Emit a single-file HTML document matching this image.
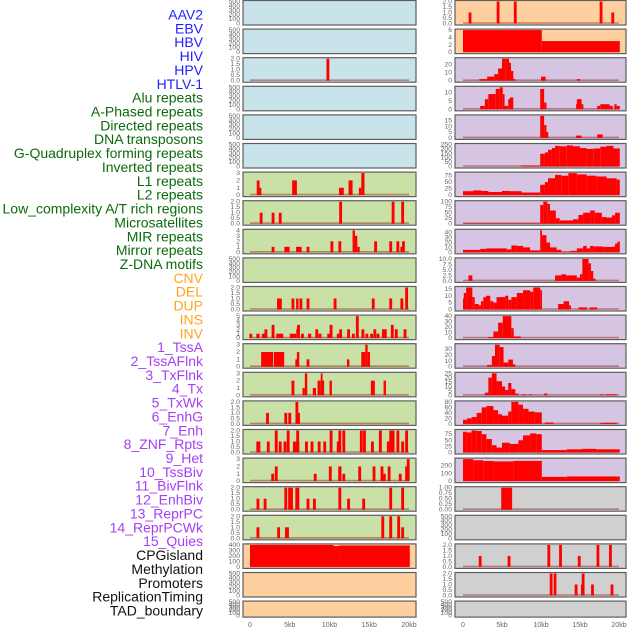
<!DOCTYPE html>
<html><head><meta charset="utf-8">
<style>
html,body{margin:0;padding:0;background:#fff;}
svg{display:block;font-family:"Liberation Sans",sans-serif;}
</style></head>
<body>
<svg id="chart" width="630" height="630" viewBox="0 0 630 630" xmlns="http://www.w3.org/2000/svg"></svg>
<script>
// ---- labels ----
const labelNames = ["AAV2","EBV","HBV","HIV","HPV","HTLV-1","Alu repeats","A-Phased repeats","Directed repeats","DNA transposons","G-Quadruplex forming repeats","Inverted repeats","L1 repeats","L2 repeats","Low_complexity A/T rich regions","Microsatellites","MIR repeats","Mirror repeats","Z-DNA motifs","CNV","DEL","DUP","INS","INV","1_TssA","2_TssAFlnk","3_TxFlnk","4_Tx","5_TxWk","6_EnhG","7_Enh","8_ZNF_Rpts","9_Het","10_TssBiv","11_BivFlnk","12_EnhBiv","13_ReprPC","14_ReprPCWk","15_Quies","CPGisland","Methylation","Promoters","ReplicationTiming","TAD_boundary"];
const labelGroups = [6,13,5,15,5];
const groupColors = ["#1f1fff","#0b6b0b","#ffa41c","#a53ef5","#111111"];

// ---- x axis ----
const xTicks = [0,5,10,15,20];
const xTickLabels = ["0","5kb","10kb","15kb","20kb"];

// ---- tick sets ----
const tEmpty = [0,100,200,300,400,500];
const tHalf = [0,0.5,1,1.5,2];
const t3 = [0,1,2,3];
const t4 = [0,1,2,3,4];
const t5 = [0,1,2,3,4,5];

// ---- middle column data: [start,end,value] or [pos,value] ----
const midHBV = [[9.8,2]];
const midAlu = [[0.85,1.2,2],[1.2,1.4,1],[5.3,5.9,2],[11.2,11.8,1],[12.4,12.9,2],[13.7,14.0,1],[14.0,14.4,3]];
const midAPh = [[1.4,1],[2.9,1],[3.8,1],[11.4,2],[18.0,2],[19.2,2]];
const midDir = [[2.9,1],[4.5,1],[4.8,1],[5.8,6.5,1],[7.3,1],[10.3,2],[11.3,2],[12.9,13.2,4],[13.2,13.5,3],[13.5,13.8,1],[15.8,2],[17.7,2],[18.6,2],[19.1,1],[19.3,2]];
const midP10 = [[3.4,4.0,1],[5.4,1],[5.8,6.1,1],[6.4,1],[7.3,1],[10.7,1],[15.5,1],[17.7,1],[19.1,1],[19.7,2]];
const midP11 = [[0.1,1],[0.8,1.2,1],[1.5,1.9,1],[2.0,2],[2.9,3],[3.3,3.9,1],[4.0,1],[5.0,5.8,1],[6.0,2],[6.1,3],[6.6,1],[7.3,7.7,1],[8.4,2],[8.8,1],[9.9,1],[10.2,3],[11.1,1],[11.4,2],[12.4,2],[13.0,1],[13.5,5],[14.2,2],[14.7,1],[15.3,1],[15.7,2],[16.1,1],[16.6,17.2,2],[17.9,3],[18.4,2],[19.5,2]];
const midP12 = [[1.4,2.9,2],[3.0,4.3,2],[5.7,5.9,1],[5.9,6.2,2],[7.3,1],[12.2,12.5,1],[14.0,14.5,2],[14.5,14.8,3],[14.8,15.1,2]];
const midP13 = [[5.4,2],[6.6,6.9,1],[6.9,7.2,3],[7.9,8.3,1],[8.5,8.9,2],[8.9,9.1,3],[9.1,9.3,2],[10.0,10.3,2],[15.2,15.7,2],[16.8,17.1,2]];
const midP14 = [[2.2,1],[4.5,1],[5.0,1],[5.9,2],[6.1,1]];
const midP15 = [[0.8,1.3,1],[2.3,1],[3.3,2],[3.8,1],[4.4,1],[4.8,2],[5.4,6.2,1],[6.0,2],[7.1,1],[7.8,1],[8.7,1],[9.4,1],[10.2,2],[11.1,1],[11.3,2],[11.8,2],[14.0,2],[14.4,2],[15.4,1],[16.4,2],[17.4,1],[17.7,2],[18.0,2],[18.6,2],[19.2,1],[19.7,2]];
const midP16 = [[2.85,1],[3.3,2],[8.2,1],[10.1,2],[11.1,11.5,2],[11.8,1],[13.8,2],[15.6,2],[16.6,2],[16.9,1],[17.5,2],[18.9,1],[19.7,2],[19.9,3]];
const midP17 = [[1.0,1],[1.9,1],[4.5,2],[4.8,5.4,2],[5.7,6.2,2],[7.3,1],[8.1,1],[11.3,2],[12.4,1],[14.3,1],[17.7,2],[19.2,2]];
const midP18 = [[1.0,1],[3.6,1],[4.4,4.9,1],[16.7,2],[17.7,2],[18.7,2],[19.2,1]];
const midCPG = [[0,10.5,400],[10.5,11.2,380],[11.2,20.1,390]];

// ---- right column data ----
const r0 = [[0.9,1],[4.5,2],[6.7,2],[17.7,2],[19.2,1]];
const r1 = [[0,10.1,6],[10.1,20.1,3]];
const r2 = [[2.1,3.1,2],[3.1,4.0,5],[4.0,4.5,8],[4.5,5.0,15],[5.0,5.4,27],[5.4,5.9,27],[5.9,6.15,22],[6.15,6.45,12],[6.45,6.7,2],[10.0,10.6,5],[14.6,15.0,2]];
const r3 = [[2.2,2.8,2],[2.8,3.25,6],[3.25,4.2,9],[4.2,4.7,12],[4.7,5.1,13],[5.1,5.3,9],[5.3,5.8,2],[5.8,6.0,6],[6.0,6.45,7],[9.9,10.4,12],[10.4,10.7,4],[14.5,14.8,3],[14.6,15.2,6],[15.2,15.3,3],[17.2,17.6,2],[17.6,18.8,3],[18.8,19.2,2],[19.4,19.7,3],[19.7,20.1,2]];
const r4 = [[9.9,10.4,19],[10.4,10.7,11],[10.7,10.85,5],[14.5,15.2,2],[17.2,17.9,3]];
const r5 = [[7.4,9.9,10],[9.9,10.5,145],[10.5,10.9,160],[10.9,11.4,190],[11.4,11.8,210],[11.8,12.4,235],[12.4,13.3,230],[13.3,14.1,240],[14.1,15.0,230],[15.0,15.85,210],[15.85,16.7,200],[16.7,17.6,205],[17.6,18.4,225],[18.4,19.3,235],[19.3,20.1,205]];
const r6 = [[0,1.3,15],[1.3,2.4,18],[2.4,3.25,16],[3.25,5.0,12],[5.0,6.0,16],[6.0,7.5,15],[7.5,9.9,10],[9.9,10.5,40],[10.5,10.9,50],[10.9,11.8,65],[11.8,12.6,78],[12.6,13.5,75],[13.5,14.6,85],[14.6,15.85,80],[15.85,17.1,75],[17.1,18.4,72],[18.4,19.3,65],[19.3,19.7,65],[19.7,20.1,60]];
const r7 = [[0,9.9,2],[9.9,10.3,85],[10.3,10.8,100],[10.8,11.15,90],[11.15,11.9,60],[11.9,12.4,25],[12.4,14.1,15],[14.1,14.8,20],[14.8,15.4,40],[15.4,16.3,50],[16.3,16.9,60],[16.9,17.8,50],[17.8,18.4,30],[18.4,19.1,28],[19.1,19.5,38],[19.5,20.1,50]];
const r8 = [[0,2.2,5],[2.2,3.0,7],[3.0,5.6,8],[5.6,6.2,6],[6.2,6.9,14],[6.9,7.7,13],[7.7,8.6,10],[8.6,9.9,4],[9.9,10.1,45],[10.1,10.7,35],[10.7,11.15,20],[11.15,12.0,10],[12.0,12.6,5],[12.6,13.7,1],[13.7,14.6,3],[14.6,15.4,8],[15.4,15.85,13],[15.85,16.3,8],[16.3,16.7,13],[16.7,18.0,12],[18.0,19.3,11],[19.3,19.5,12],[19.5,19.8,18],[19.8,20.1,22]];
const r9 = [[0.7,1.2,2.5],[11.8,12.6,2.5],[12.6,13.2,3],[13.2,14.6,2.5],[14.6,15.0,1.5],[15.0,15.3,3],[15.3,16.1,10],[16.1,16.4,8],[16.4,16.7,4.5],[16.7,17.0,1]];
const r10 = [[0,0.1,8],[0.1,0.4,12],[0.4,1.2,16],[1.2,1.5,9],[1.5,2.0,4],[2.0,2.3,3],[2.3,2.6,6],[2.6,2.95,9],[2.95,3.5,10],[3.5,3.9,6],[3.9,4.3,5],[4.3,5.4,9],[5.4,5.8,10],[5.8,6.2,7],[6.2,6.9,9],[6.9,7.7,12],[7.7,8.6,14],[8.6,9.0,13],[9.0,9.9,16],[9.9,10.1,14],[12.2,12.9,4],[12.9,13.6,6],[13.6,13.7,3],[14.8,15.9,1.5],[16.2,17.2,1.5]];
const r11 = [[3.25,3.9,2],[3.9,4.5,12],[4.5,5.1,28],[5.1,6.2,40],[6.2,6.5,18],[6.5,7.4,3]];
const r12 = [[3.1,3.7,3],[3.7,4.1,18],[4.1,4.7,37],[4.7,5.2,33],[5.2,5.8,7],[5.8,6.4,12],[6.4,6.7,4]];
const r13 = [[2.8,3.25,3],[3.25,3.7,20],[3.7,4.3,25],[4.3,5.0,16],[5.0,5.4,10],[5.4,5.8,6],[5.8,6.2,14],[6.2,6.7,7],[6.7,7.1,2],[7.65,8.1,1],[8.5,8.8,1],[10.4,10.8,2],[17.6,18.0,1],[18.3,19.7,1]];
const r14 = [[0,0.5,15],[0.5,1.1,20],[1.1,1.75,25],[1.75,2.4,40],[2.4,3.0,60],[3.0,3.9,65],[3.9,4.5,50],[4.5,5.0,35],[5.0,5.8,30],[5.8,6.2,45],[6.2,7.1,80],[7.1,7.7,70],[7.7,8.4,55],[8.4,9.2,45],[9.2,10.1,42],[10.5,11.6,5],[17.6,18.0,3],[18.0,19.7,4]];
const r15 = [[0,0.5,85],[0.5,1.1,82],[1.1,1.75,90],[1.75,2.4,88],[2.4,3.0,75],[3.0,3.7,55],[3.7,4.3,30],[4.3,5.0,20],[5.0,6.0,40],[6.0,7.1,35],[7.1,7.7,50],[7.7,8.6,70],[8.6,9.4,78],[9.4,10.1,75],[10.1,13.3,10],[13.3,15.2,13],[15.2,17.1,15],[17.1,20.1,13]];
const r16 = [[0,1.3,285],[1.3,2.6,270],[2.6,3.9,260],[3.9,6.45,255],[6.45,10.1,262],[10.1,13.3,55],[13.3,20.1,60]];
const r17 = [[4.9,6.3,1]];
const r19 = [[2.2,1],[5.9,1],[11.0,2],[12.5,2],[14.9,1],[17.3,2],[18.9,2]];
const r20 = [[11.3,2],[11.8,2],[14.5,1],[15.3,1],[15.4,2],[16.6,1],[19.1,1]];

const BLUE="#c8e3ea", GREEN="#c9e1a6", ORANGE="#fecf9f", LAV="#d6c5e2", GRAY="#d0d0d0";
const midPanels = [
 [null,tEmpty,BLUE],[null,tEmpty,BLUE],[midHBV,tHalf,BLUE],[null,tEmpty,BLUE],[null,tEmpty,BLUE],[null,tEmpty,BLUE],
 [midAlu,t3,GREEN],[midAPh,tHalf,GREEN],[midDir,t4,GREEN],[null,tEmpty,GREEN],[midP10,tHalf,GREEN],[midP11,t5,GREEN],
 [midP12,t3,GREEN],[midP13,t3,GREEN],[midP14,tHalf,GREEN],[midP15,tHalf,GREEN],[midP16,t3,GREEN],[midP17,tHalf,GREEN],
 [midP18,tHalf,GREEN],[midCPG,[0,100,200,300,400],ORANGE],[null,tEmpty,ORANGE],[null,tEmpty,ORANGE]];
const rightPanels = [
 [r0,tHalf,ORANGE],[r1,[0,2,4,6],ORANGE],[r2,[0,10,20],LAV],[r3,[0,5,10],LAV],[r4,[0,5,10,15],LAV],
 [r5,[0,50,100,150,200,250],LAV],[r6,[0,25,50,75],LAV],[r7,[0,25,50,75,100],LAV],[r8,[0,10,20,30,40],LAV],
 [r9,[0,2.5,5,7.5,10],LAV],[r10,[0,5,10,15],LAV],[r11,[0,10,20,30,40],LAV],[r12,[0,10,20,30],LAV],
 [r13,[0,5,10,15,20,25],LAV],[r14,[0,20,40,60,80],LAV],[r15,[0,25,50,75],LAV],[r16,[0,100,200],LAV],
 [r17,[0,0.25,0.5,0.75,1],GRAY],[null,tEmpty,GRAY],[r19,tHalf,GRAY],[r20,tHalf,GRAY],[null,tEmpty,GRAY]];

const NS="http://www.w3.org/2000/svg";
const svg=document.getElementById('chart');
function mk(tag,attrs,parent){const e=document.createElementNS(NS,tag);for(const k in attrs)e.setAttribute(k,attrs[k]);(parent||svg).appendChild(e);return e;}

// labels
let li=0;
labelGroups.forEach((n,g)=>{for(let j=0;j<n;j++){
  const t=mk('text',{x:203,y:(19.5+li*13.86).toFixed(1),'text-anchor':'end','font-size':'14',fill:groupColors[g]});
  t.textContent=labelNames[li];
  
  
  li++;}});

function fmt(v,ticks){
  const frac=ticks.some(t=>Math.abs(t-Math.round(t))>1e-9);
  if(!frac)return String(v);
  const q=ticks.some(t=>Math.abs(t*2-Math.round(t*2))>1e-9);
  return q&&ticks[ticks.length-1]<=1?v.toFixed(2):v.toFixed(1);
}

function drawColumn(panels,left,width,x0,kbScale,colName){
  const xs=kb=>x0+kb*kbScale;
  panels.forEach((p,i)=>{
    const [data,ticks,bg]=p;
    const top=0.5+i*28.6, h=(i===21)?16:24.5;
    const g=mk('g',{});
    
    
    mk('rect',{x:left,y:top,width:width,height:h,fill:bg},g);
    const base=top+h-1.5, ytop=top+1;
    let dmax=0; if(data)data.forEach(d=>{dmax=Math.max(dmax,d[d.length-1]);});
    const ymax=data?Math.max(dmax,ticks[ticks.length-1]):ticks[ticks.length-1];
    const ys=v=>base-(v/ymax)*(base-ytop);
    if(data){
      mk('line',{x1:xs(0),x2:xs(20),y1:base-0.5,y2:base-0.5,stroke:'rgba(150,20,20,0.45)','stroke-width':1.6},g);
      data.forEach(d=>{
        let s,e,v;
        if(d.length===3){s=d[0];e=d[1];v=d[2];}else{s=d[0]-0.18;e=d[0]+0.18;v=d[1];}
        const r=mk('rect',{x:xs(s).toFixed(2),y:ys(v).toFixed(2),width:Math.max(1.8,xs(e)-xs(s)).toFixed(2),height:(base-ys(v)).toFixed(2),fill:'#ff0000'},g);
        
        
      });
    }
    mk('rect',{x:left,y:top,width:width,height:h,fill:'none',stroke:'#5e5e5e','stroke-width':1.2},g);
    ticks.forEach(t=>{
      const tl=mk('text',{x:left-3,y:(ys(t)+2).toFixed(1),'text-anchor':'end','font-size':'6.8',fill:'#666'},g);
      tl.textContent=fmt(t,ticks);
      
      
    });
  });
  xTicks.forEach((t,k)=>{
    const tx=mk('text',{x:xs(t),y:627,'text-anchor':'middle','font-size':'7',fill:'#666'});
    tx.textContent=xTickLabels[k];
    
    
  });
}
drawColumn(midPanels,243,173,250,7.95,'middle');
drawColumn(rightPanels,455,171,463,7.8,'right');
</script>
</body></html>
